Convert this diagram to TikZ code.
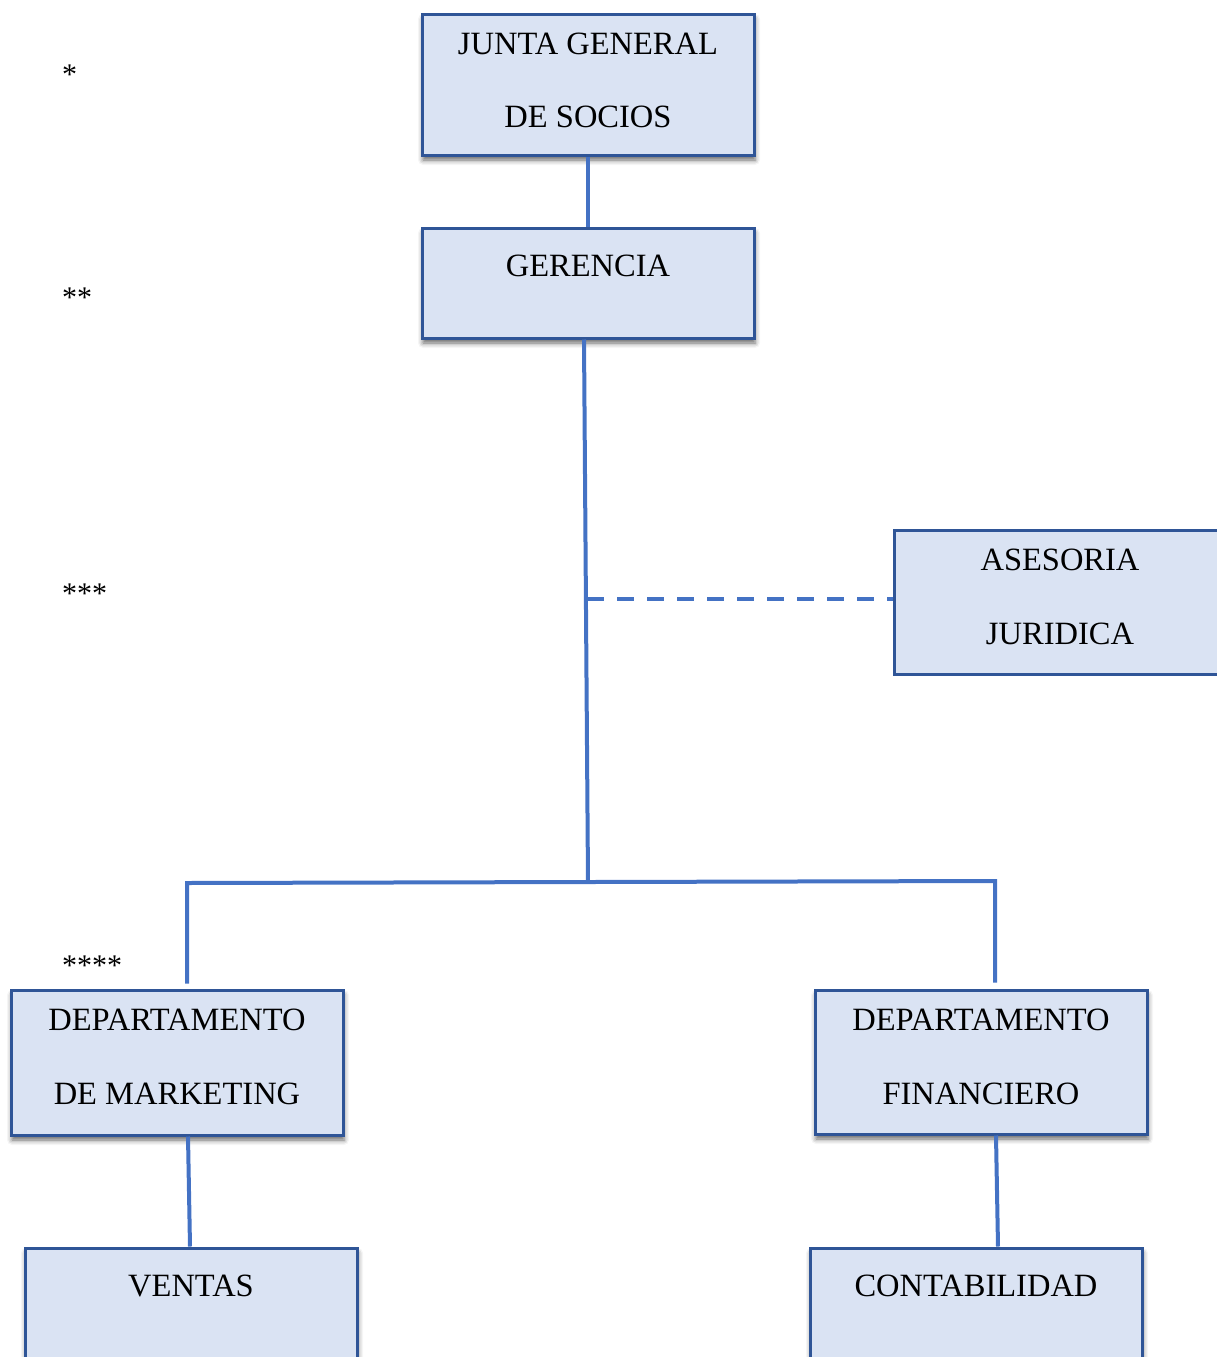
\documentclass[tikz,border=0pt]{standalone}
\usepackage{fontspec}
\setmainfont{Liberation Serif}
\usetikzlibrary{shadows.blur}

\definecolor{boxfill}{HTML}{DAE3F3}
\definecolor{boxline}{HTML}{2F5597}
\definecolor{linkblue}{HTML}{4472C4}

\tikzset{
  unit/.style={draw=boxline, line width=3pt, fill=boxfill, minimum width=332pt, inner sep=0pt},
  shade/.style={blur shadow={shadow xshift=1pt, shadow yshift=-5pt, shadow blur radius=5pt, shadow opacity=60}},
  lbl/.style={anchor=base, font=\fontsize{32.5}{38}\selectfont, inner sep=0pt},
  stars/.style={anchor=base west, font=\fontsize{30}{36}\selectfont, inner sep=0pt},
  link/.style={draw=linkblue, line width=4pt},
}

\begin{document}
\begin{tikzpicture}[x=1pt,y=-1pt]
\clip (0,0) rectangle (1217,1357);

% boxes
\node[unit, shade, minimum height=141pt] (jun) at (588,84.5) {};
\node[unit, shade, minimum height=110pt] (ger) at (588,283) {};
\node[unit, minimum height=144pt] (ase) at (1060,602) {};
\node[unit, shade, minimum height=145pt] (mkt) at (177,1062.5) {};
\node[unit, shade, minimum height=144pt] (fin) at (981,1062) {};
\node[unit, shade, minimum height=144pt] (ven) at (191,1320) {};
\node[unit, shade, minimum height=144pt] (con) at (976,1320) {};

% texts
\node[lbl] (jun-a) at ([yshift=-42pt]jun.north) {JUNTA GENERAL};
\node[lbl] (jun-b) at ([yshift=-115pt]jun.north) {DE SOCIOS};
\node[lbl] (ger-a) at ([yshift=-50pt]ger.north) {GERENCIA};
\node[lbl] (ase-a) at ([yshift=-42pt]ase.north) {ASESORIA};
\node[lbl] (ase-b) at ([yshift=-116pt]ase.north) {JURIDICA};
\node[lbl] (mkt-a) at ([yshift=-42pt]mkt.north) {DEPARTAMENTO};
\node[lbl] (mkt-b) at ([yshift=-116pt]mkt.north) {DE MARKETING};
\node[lbl] (fin-a) at ([yshift=-42pt]fin.north) {DEPARTAMENTO};
\node[lbl] (fin-b) at ([yshift=-116pt]fin.north) {FINANCIERO};
\node[lbl] (ven-a) at ([yshift=-50pt]ven.north) {VENTAS};
\node[lbl] (con-a) at ([yshift=-50pt]con.north) {CONTABILIDAD};

% level marks
\node[stars] (lv1) at (62,84) {*};
\node[stars] (lv2) at (62,307) {**};
\node[stars] (lv3) at (62,603) {***};
\node[stars] (lv4) at (62,975) {****};

% connectors
\coordinate (hub) at (588,882);
\coordinate (tap) at (587,599);
\coordinate (lc) at (187,883);
\coordinate (rc) at (995,881);

\draw[link] (jun) -- (ger);
\draw[link] ([xshift=-4pt]ger.south) -- (hub);
\draw[link, dash pattern=on 17pt off 13pt] (tap) -- (tap -| ase.west);
\draw[link] ([yshift=5pt]lc |- mkt.north) -- (lc) -- (rc) -- ([yshift=6pt]rc |- fin.north);
\draw[link] ([xshift=11pt]mkt.south) -- ([xshift=-1pt]ven.north);
\draw[link] ([xshift=15pt]fin.south) -- ([xshift=22pt]con.north);
\end{tikzpicture}
\end{document}
